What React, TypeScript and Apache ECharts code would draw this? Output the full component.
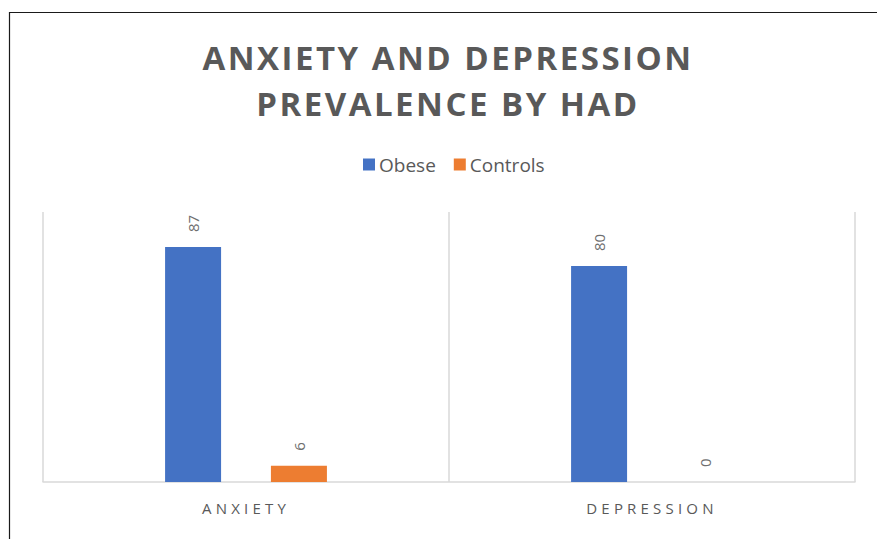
import React, { useEffect, useRef } from "react";
import * as echarts from "echarts";

const categories = ["ANXIETY", "DEPRESSION"];
const obeseValues = [87, 80];
const controlsValues = [6, 0];
const seriesNames = ["Obese", "Controls"];
const titleText = "ANXIETY AND DEPRESSION\nPREVALENCE BY HAD";

const GRAY = "#595959";
const FONT = "'Open Sans', 'Noto Sans', sans-serif";
const TITLE_FONT = "'Open Sans', Lato, sans-serif";
const AXIS_FONT = "'Open Sans', Roboto, sans-serif";

export default function App() {
  const ref = useRef<HTMLDivElement>(null);
  useEffect(() => {
    if (!ref.current) return;
    const chart = echarts.init(ref.current, undefined, { renderer: "svg" });
    const labelCfg = {
      show: true,
      position: "top",
      rotate: 90,
      align: "left",
      verticalAlign: "middle",
      distance: 15,
      color: "#6f6f6f",
      fontSize: 15,
      fontFamily: FONT,
    };
    chart.setOption({
      animation: false,
      backgroundColor: "#ffffff",
      title: {
        text: titleText,
        left: 443,
        textAlign: "center",
        top: 29,
        textStyle: {
          color: GRAY,
          fontSize: 33,
          fontWeight: "bold",
          fontFamily: TITLE_FONT,
          lineHeight: 46,
        },
      },
      legend: {
        top: 150,
        left: 358,
        icon: "rect",
        itemWidth: 12,
        itemHeight: 12,
        itemGap: 18,
        textStyle: { color: GRAY, fontSize: 19, fontFamily: FONT, padding: [0, 0, 0, -1] },
        data: seriesNames,
      },
      graphic: [
        {
          type: "rect",
          shape: { x: 9.5, y: 12.5, width: 1000, height: 1000 },
          style: { fill: "none", stroke: "#1a1a1a", lineWidth: 1.2 },
          silent: true,
        },
      ],
      grid: { left: 43, right: 22, top: 212, bottom: 57 },
      xAxis: {
        type: "category",
        data: categories,
        axisLine: { lineStyle: { color: "#d9d9d9", width: 1.5 } },
        axisTick: { show: false },
        splitLine: { show: true, lineStyle: { color: "#d9d9d9", width: 1.5 } },
        axisLabel: { color: GRAY, fontSize: 15, fontFamily: AXIS_FONT, margin: 18 },
      },
      yAxis: {
        type: "value",
        min: 0,
        max: 100,
        show: false,
        splitLine: { show: false },
      },
      series: [
        {
          name: seriesNames[0],
          type: "bar",
          data: obeseValues,
          barWidth: 56,
          barGap: "89%",
          itemStyle: { color: "#4472C4" },
          label: labelCfg,
        },
        {
          name: seriesNames[1],
          type: "bar",
          data: controlsValues,
          barWidth: 56,
          itemStyle: { color: "#ED7D31" },
          label: labelCfg,
        },
      ],
    });
    return () => chart.dispose();
  }, []);
  return (
    <>
      <style>{`
        #chartbox text[style*="Lato"] { letter-spacing: 2.5px; }
        #chartbox text[style*="Roboto"] { letter-spacing: 4.2px; }
      `}</style>
      <div
        id="chartbox"
        ref={ref}
        style={{ position: "fixed", left: 0, top: 0, width: 877, height: 539, overflow: "hidden" }}
      />
    </>
  );
}
